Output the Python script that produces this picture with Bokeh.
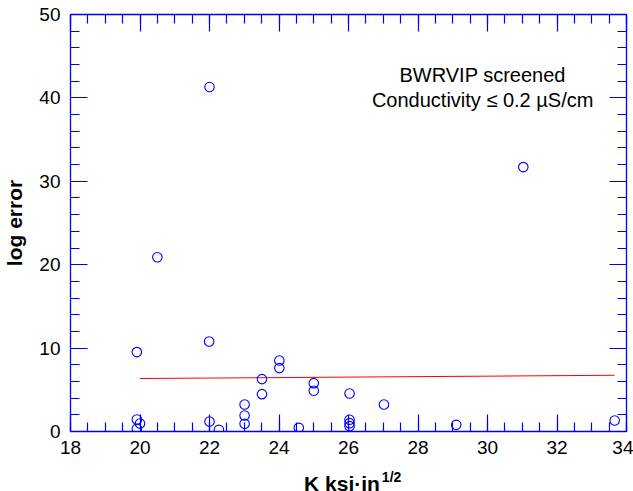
from bokeh.plotting import figure
from bokeh.models import LinearAxis, SingleIntervalTicker, Range1d
from bokeh.layouts import column
from bokeh.core.properties import value
from bokeh.embed import file_html
from bokeh.resources import INLINE

# Data
k_values = [22.0, 31.03, 20.5, 19.91, 21.99, 19.91, 20.0, 19.91, 22.0, 22.27,
            23.01, 23.01, 23.01, 23.51, 23.51, 24.01, 24.01, 24.57, 25.0, 25.0,
            26.03, 26.03, 26.03, 26.03, 27.02, 29.1, 33.66]
log_error = [41.3, 31.7, 20.9, 9.52, 10.8, 1.44, 0.96, 0.32, 1.2, 0.2,
             3.24, 1.92, 0.92, 6.28, 4.48, 8.52, 7.6, 0.44, 5.8, 4.88,
             4.56, 1.4, 1.0, 0.64, 3.24, 0.8, 1.32]
fit_k = [20.0, 33.66]
fit_error = [6.35, 6.75]
note_lines = ["BWRVIP screened", "Conductivity \u2264 0.2 \u00b5S/cm"]
note_x = [29.86, 29.86]
note_y = [42.7, 39.7]
x_title = "K ksi\u00b7in"
x_title_sup = "1/2"

FONT = "Liberation Sans"
BLUE = "#0000ff"

x_range = Range1d(18, 34)

p = figure(width=633, height=462, output_backend="svg", toolbar_location=None,
           x_range=x_range, y_range=Range1d(0, 50),
           min_border_left=69, min_border_right=7, min_border_top=14, min_border_bottom=31,
           x_axis_location=None, y_axis_location=None)
p.outline_line_color = None
p.xgrid.visible = False
p.ygrid.visible = False
p.background_fill_color = "white"
p.border_fill_color = "white"


def style_axis(ax, labels=True):
    ax.axis_line_color = BLUE
    ax.axis_line_width = 1.3
    ax.major_tick_line_color = BLUE
    ax.minor_tick_line_color = BLUE
    ax.major_tick_in = 17
    ax.major_tick_out = 0
    ax.minor_tick_in = 9
    ax.minor_tick_out = 0
    ax.major_tick_line_width = 1.2
    ax.minor_tick_line_width = 1.2
    if labels:
        ax.major_label_text_font = FONT
        ax.major_label_text_font_size = "19px"
        ax.major_label_text_color = "black"
        ax.major_label_standoff = 9
        ax.axis_label_text_font = FONT
        ax.axis_label_text_font_size = "21px"
        ax.axis_label_text_font_style = "bold"
        ax.axis_label_text_color = "black"
    else:
        ax.major_label_text_font_size = "0px"
        ax.major_label_text_alpha = 0
        ax.major_label_standoff = 0


xb = LinearAxis(ticker=SingleIntervalTicker(interval=2, num_minor_ticks=4))
style_axis(xb)
p.add_layout(xb, "below")

yl = LinearAxis(ticker=SingleIntervalTicker(interval=10, num_minor_ticks=5),
                axis_label="log error", axis_label_standoff=10)
style_axis(yl)
yl.major_label_standoff = 10
p.add_layout(yl, "left")

xt = LinearAxis(ticker=SingleIntervalTicker(interval=2, num_minor_ticks=4))
style_axis(xt, labels=False)
p.add_layout(xt, "above")

yr = LinearAxis(ticker=SingleIntervalTicker(interval=10, num_minor_ticks=5))
style_axis(yr, labels=False)
p.add_layout(yr, "right")

# regression line
p.line(fit_k, fit_error, line_color="red", line_width=1.1)

# data points
p.scatter(k_values, log_error, marker="circle", size=9.5, fill_color=None,
          line_color=BLUE, line_width=1.1)

# annotation
p.text(x=note_x, y=note_y, text=note_lines, text_font=value(FONT),
       text_font_size="20px", text_align="center", text_baseline="alphabetic",
       text_color="black")

# strip below the plot holding the x-axis title (with superscript), sharing the x range
t = figure(width=633, height=29, output_backend="svg", toolbar_location=None,
           x_range=x_range, y_range=Range1d(0, 29),
           min_border_left=69, min_border_right=7, min_border_top=0, min_border_bottom=0,
           x_axis_location=None, y_axis_location=None)
t.outline_line_color = None
t.xgrid.visible = False
t.ygrid.visible = False
t.text(x=[24.72], y=[8], text=[x_title], text_font=value(FONT),
       text_font_size="21px", text_font_style="bold", text_color="black",
       text_baseline="alphabetic", text_align="left")
t.text(x=[26.96], y=[15], text=[x_title_sup], text_font=value(FONT),
       text_font_size="14px", text_font_style="bold", text_color="black",
       text_baseline="alphabetic", text_align="left")

layout = column(p, t, spacing=0)
open("out.html", "w").write(file_html(layout, INLINE))
